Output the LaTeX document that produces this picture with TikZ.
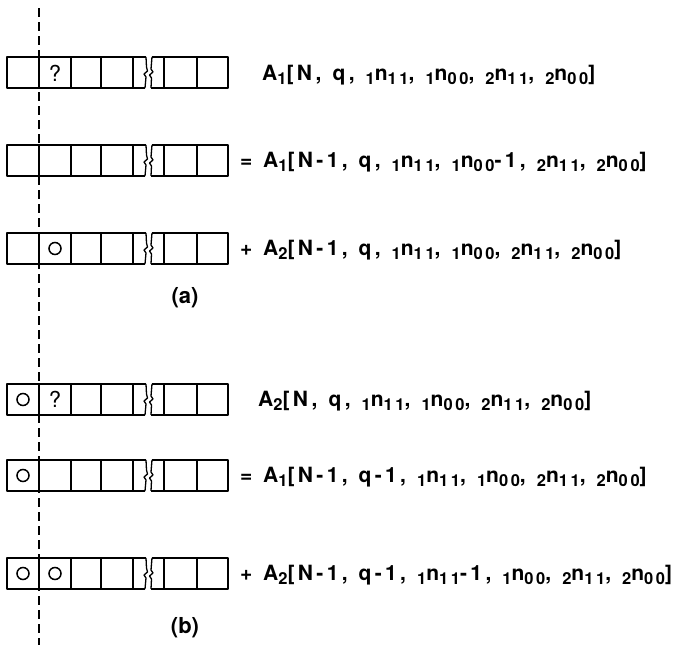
\documentclass[tikz,border=0pt]{standalone}
\usepackage{fontspec}
\setmainfont{TeX Gyre Heros}
\newfontfamily\eqfont[LetterSpace=16,WordSpace=1.2]{TeX Gyre Heros}
\newcommand\lsub[1]{\raisebox{-0.2em}{\fontsize{16.5}{16.5}\selectfont #1}}
\begin{document}
\begin{tikzpicture}[x=1pt,y=-1pt,
  tapeline/.style={line width=1.3pt, line join=round},
  eq/.style={anchor=base west, inner sep=0pt, font=\eqfont\bfseries\fontsize{21}{21}\selectfont},
  sign/.style={anchor=base west, inner sep=0pt, font=\bfseries\fontsize{21}{21}\selectfont},
  circmark/.style={circle, draw, line width=1.5pt, minimum size=12pt, inner sep=0pt},
  qmark/.style={inner sep=0pt, font=\fontsize{22}{22}\selectfont},
  caption/.style={inner sep=0pt, font=\bfseries\fontsize{22}{22}\selectfont},
  tape/.pic={
    \draw[tapeline] (139,0) -- (0,0) -- (0,31) -- (138,31);
    \draw[tapeline] (139,0) -- (139.5,10) -- (140.5,14) -- (137,17) -- (139,20) -- (138,31);
    \foreach \d in {32,64,94,126} \draw[tapeline] (\d,0) -- (\d,31);
    \draw[tapeline] (145,0) -- (221,0) -- (221,31) -- (144,31);
    \draw[tapeline] (145,0) -- (144,12) -- (146,15) -- (142.5,18) -- (144.5,21) -- (144,31);
    \foreach \d in {157,190} \draw[tapeline] (\d,0) -- (\d,31);
  }]
\useasboundingbox (0,0) rectangle (683,653);
% dashed boundary line
\coordinate (dtop) at (39,8);
\coordinate (dbot) at (39,645);
\draw[line width=1.4pt, dash pattern=on 9pt off 5pt] (dtop) -- (dbot);
% tapes
\pic at (7,57) {tape};
\pic at (7,145) {tape};
\pic at (7,233) {tape};
\pic at (7,384) {tape};
\pic at (7,460) {tape};
\pic at (7,558) {tape};
% cell contents
\node[qmark] (q1) at (55,73) {?};
\node[circmark] (o3) at (55,248.5) {};
\node[circmark] (o4a) at (23,399.5) {};
\node[qmark] (q4) at (55,399.5) {?};
\node[circmark] (o5) at (23,475.5) {};
\node[circmark] (o6a) at (23,573.5) {};
\node[circmark] (o6b) at (55,573.5) {};
% equations
\node[eq] (e1) at (262,80) {A\lsub{1}[N, q, \lsub{1}n\lsub{11}, \lsub{1}n\lsub{00}, \lsub{2}n\lsub{11}, \lsub{2}n\lsub{00}]};
\node[sign] (s2) at (240,167) {=};
\node[eq] (e2) at (263,167) {A\lsub{1}[N-1, q, \lsub{1}n\lsub{11}, \lsub{1}n\lsub{00}-1, \lsub{2}n\lsub{11}, \lsub{2}n\lsub{00}]};
\node[sign] (s3) at (240,255) {+};
\node[eq] (e3) at (263,255) {A\lsub{2}[N-1, q, \lsub{1}n\lsub{11}, \lsub{1}n\lsub{00}, \lsub{2}n\lsub{11}, \lsub{2}n\lsub{00}]};
\node[eq] (e4) at (258,406) {A\lsub{2}[N, q, \lsub{1}n\lsub{11}, \lsub{1}n\lsub{00}, \lsub{2}n\lsub{11}, \lsub{2}n\lsub{00}]};
\node[sign] (s5) at (240,482) {=};
\node[eq] (e5) at (263,482) {A\lsub{1}[N-1, q-1, \lsub{1}n\lsub{11}, \lsub{1}n\lsub{00}, \lsub{2}n\lsub{11}, \lsub{2}n\lsub{00}]};
\node[sign] (s6) at (240,580) {+};
\node[eq] (e6) at (263,580) {A\lsub{2}[N-1, q-1, \lsub{1}n\lsub{11}-1, \lsub{1}n\lsub{00}, \lsub{2}n\lsub{11}, \lsub{2}n\lsub{00}]};
% captions
\node[caption] (ca) at (185,298) {(a)};
\node[caption] (cb) at (185,628) {(b)};
\end{tikzpicture}
\end{document}
